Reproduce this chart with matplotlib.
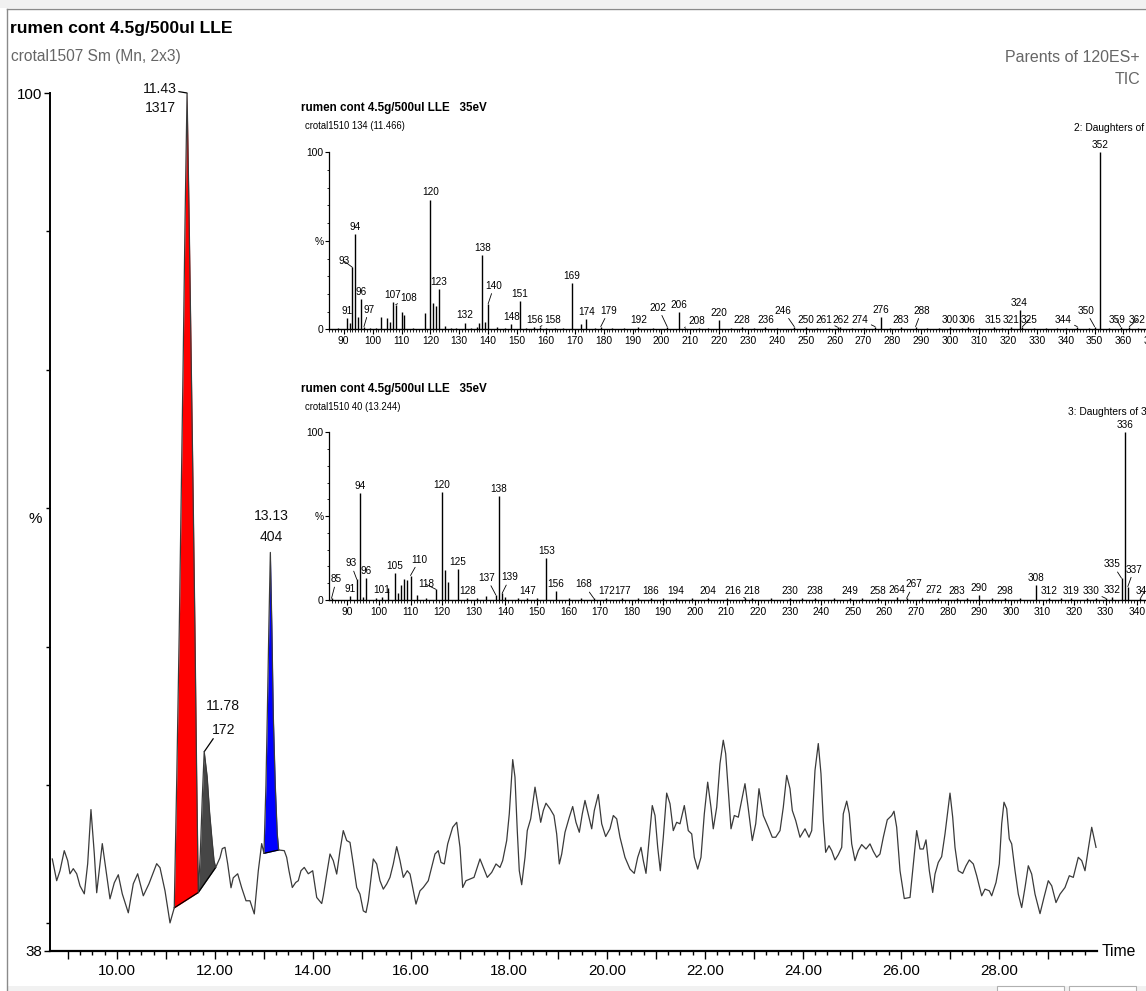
import numpy as np
import matplotlib
matplotlib.use("Agg")
import matplotlib.pyplot as plt
import matplotlib.font_manager as fm
from matplotlib.ticker import FixedLocator, MultipleLocator, FuncFormatter, NullFormatter
from matplotlib.patches import Rectangle
from matplotlib.lines import Line2D

# narrow face if present, otherwise Liberation Sans at a reduced size
_names = {e.name for e in fm.fontManager.ttflist}
if 'Liberation Sans Narrow' in _names:
    FAMILY, SCALE = 'Liberation Sans Narrow', 1.0
else:
    FAMILY, SCALE = 'Liberation Sans', 0.84
plt.rcParams['font.family'] = [FAMILY, 'DejaVu Sans']


def fs(size):
    return size * SCALE


# ---------------- TIC chromatogram (Parents of 120ES+) ----------------
rt_min = [
    8.680, 8.769, 8.837, 8.924, 8.994, 9.041, 9.108, 9.178, 9.245, 9.333, 9.402, 9.469, 9.537, 9.586,
    9.700, 9.769, 9.857, 9.945, 10.027, 10.108, 10.231, 10.333, 10.422, 10.537, 10.653, 10.810, 10.878,
    10.980, 11.082, 11.169,
    11.220, 11.270, 11.310, 11.350, 11.390, 11.430, 11.470, 11.510, 11.550, 11.590, 11.625, 11.645, 11.659,
    11.700, 11.740, 11.780, 11.840, 11.890, 11.940, 11.980, 12.014,
    12.102, 12.149, 12.204, 12.259, 12.327, 12.373, 12.463, 12.545, 12.633, 12.714, 12.802, 12.884, 12.953,
    13.000, 13.040, 13.070, 13.100, 13.130, 13.160, 13.190, 13.230, 13.270, 13.300,
    13.414, 13.463, 13.510, 13.578, 13.647, 13.700, 13.755, 13.822, 13.904, 13.994,
    14.076, 14.178, 14.210, 14.280, 14.347, 14.414, 14.484, 14.551, 14.618, 14.688, 14.755, 14.822,
    14.892, 14.959, 15.027, 15.082, 15.129, 15.178, 15.231, 15.300, 15.367, 15.435, 15.504, 15.571,
    15.639, 15.708, 15.776, 15.843, 15.924, 15.980, 16.047, 16.102, 16.184, 16.251, 16.353, 16.422,
    16.490, 16.557, 16.612, 16.680, 16.749, 16.851, 16.933, 17.000, 17.055, 17.122, 17.204, 17.286,
    17.341, 17.408, 17.476, 17.557, 17.647, 17.735, 17.816, 17.871, 17.953, 18.006, 18.076, 18.122,
    18.169, 18.210, 18.259, 18.327, 18.373, 18.443, 18.531, 18.598, 18.647, 18.700, 18.755, 18.837,
    18.918, 18.973, 19.027, 19.076, 19.143, 19.231, 19.300, 19.367, 19.435, 19.496, 19.551, 19.633,
    19.688, 19.741, 19.822, 19.892, 19.973, 20.061, 20.129, 20.198, 20.265, 20.367, 20.469, 20.557,
    20.627, 20.694, 20.741, 20.796, 20.857, 20.924, 20.980, 21.035, 21.088, 21.149, 21.218, 21.286,
    21.353, 21.422, 21.490, 21.578, 21.659, 21.729, 21.782, 21.851, 21.918, 21.986, 22.055, 22.122,
    22.169, 22.239, 22.306, 22.373, 22.422, 22.476, 22.531, 22.598, 22.680, 22.749, 22.816, 22.884,
    22.965, 23.035, 23.102, 23.190, 23.292, 23.373, 23.443, 23.531, 23.598, 23.667, 23.735, 23.782,
    23.851, 23.939, 24.041, 24.122, 24.178, 24.245, 24.312, 24.367, 24.414, 24.463, 24.531, 24.586,
    24.653, 24.720, 24.790, 24.822, 24.892, 24.945, 24.994, 25.061, 25.129, 25.198, 25.286, 25.367,
    25.435, 25.504, 25.571, 25.639, 25.720, 25.810, 25.857, 25.912, 25.980, 26.067, 26.184, 26.251,
    26.320, 26.388, 26.455, 26.510, 26.578, 26.647, 26.694, 26.761, 26.830, 26.898, 26.945, 27.000,
    27.055, 27.102, 27.169, 27.259, 27.327, 27.394, 27.476, 27.545, 27.647, 27.714, 27.802, 27.851,
    27.939, 28.006, 28.055, 28.102, 28.157, 28.210, 28.259, 28.327, 28.394, 28.463, 28.531, 28.598,
    28.667, 28.735, 28.837, 28.918, 29.006, 29.076, 29.163, 29.245, 29.347, 29.435, 29.516, 29.618,
    29.688, 29.755, 29.822, 29.892, 29.980,
]
tic_pct = [
    44.65, 43.08, 43.80, 45.25, 44.53, 43.58, 43.95, 43.58, 42.71, 42.13, 44.31, 48.22, 45.03, 42.21,
    45.76, 44.02, 41.77, 42.93, 43.51, 42.13, 40.76, 42.86, 43.58, 41.99, 42.86, 44.31, 44.02,
    42.35, 40.03, 41.12,
    50.50, 61.00, 70.50, 80.50, 91.00, 100.00, 91.50, 82.00, 72.00, 61.50, 51.00, 46.00, 42.23,
    45.00, 49.00, 52.40, 50.60, 48.00, 46.00, 44.53, 44.04,
    44.74, 45.40, 45.49, 44.31, 42.57, 43.29, 43.58, 42.57, 41.63, 41.63, 40.68, 43.80, 45.76,
    45.06, 50.00, 55.50, 61.50, 66.80, 61.50, 55.00, 50.00, 46.50, 45.30,
    45.25, 44.77, 43.80, 42.59, 42.95, 43.08, 43.80, 44.04, 43.58, 43.80,
    41.87, 41.43, 41.99, 43.56, 45.01, 44.53, 43.56, 45.25, 46.70, 45.98, 45.85, 44.29,
    42.59, 42.11, 40.90, 40.78, 41.63, 43.08, 44.65, 44.29, 43.08, 42.47, 42.84, 43.32,
    44.29, 45.54, 44.53, 43.32, 43.80, 43.56, 42.35, 41.39, 42.35, 42.59, 43.08, 44.04,
    45.01, 45.25, 44.40, 44.29, 45.74, 46.94, 47.30, 45.49, 42.59, 43.08, 43.20, 43.32,
    43.92, 44.65, 44.04, 43.32, 43.68, 44.29, 44.04, 44.53, 45.98, 47.91, 51.83, 50.57,
    46.70, 43.80, 42.79, 44.77, 46.70, 47.55, 49.84, 48.39, 47.30, 48.15, 48.68, 48.28,
    47.79, 46.46, 44.29, 45.01, 46.58, 47.67, 48.44, 47.30, 46.58, 47.91, 48.88, 47.67,
    46.83, 48.15, 49.31, 47.19, 46.27, 46.83, 47.79, 47.55, 46.22, 44.77, 43.92, 43.61,
    44.77, 45.49, 44.53, 43.61, 45.98, 48.51, 47.79, 45.49, 43.80, 46.22, 49.41, 48.64,
    46.70, 47.30, 47.19, 48.51, 46.70, 46.46, 44.77, 43.92, 44.77, 47.91, 50.20, 48.39,
    46.83, 48.39, 51.54, 53.23, 52.26, 49.60, 46.83, 47.79, 47.67, 48.88, 50.09, 48.28,
    45.98, 47.19, 49.73, 47.79, 46.94, 46.22, 46.22, 46.70, 48.39, 50.69, 49.73, 48.15,
    47.43, 46.22, 46.83, 46.22, 46.70, 51.05, 52.99, 50.81, 47.43, 45.13, 45.61, 45.25,
    44.58, 44.96, 45.49, 47.91, 48.83, 47.91, 45.74, 44.53, 45.25, 45.69, 45.37, 45.74,
    45.20, 44.77, 45.01, 46.22, 47.48, 47.79, 48.10, 46.94, 43.80, 41.79, 41.87, 44.29,
    46.70, 45.37, 45.37, 46.03, 43.80, 42.23, 43.56, 44.40, 44.82, 46.46, 47.79, 49.41,
    47.67, 45.49, 43.80, 43.61, 44.16, 44.58, 44.29, 43.44, 41.99, 42.47, 42.35, 41.99,
    42.95, 44.29, 47.19, 48.75, 48.28, 46.10, 45.74, 43.80, 42.11, 41.14, 42.59, 44.16,
    43.56, 42.11, 40.70, 41.87, 43.08, 42.71, 41.50, 42.11, 42.59, 43.44, 43.32, 44.77,
    44.53, 43.80, 45.37, 46.94, 45.49,
]

# integrated peaks
peak_rt = [11.43, 11.78, 13.13]
peak_area = [1317, 172, 404]
peak_start = [11.169, 11.659, 13.000]
peak_end = [11.659, 12.014, 13.300]
peak_colour = ['#ff0000', '#464646', '#0000ff']

# ---------------- daughter spectrum of 352 (scan 134, 11.466 min) ----------------
spec1_mz = [88, 91, 92, 93, 94, 95, 96, 97, 99, 101, 103, 105, 106, 107, 108, 110, 111, 114, 118,
            120, 121, 122, 123, 125, 127, 129, 132, 134, 136, 137, 138, 139, 140, 143, 146, 148,
            151, 153, 156, 158, 160, 163, 166, 169, 172, 174, 177, 179, 183, 187, 192, 197, 202,
            206, 208, 213, 216, 220, 224, 228, 232, 236, 240, 246, 250, 254, 258, 261, 262, 266,
            270, 274, 276, 279, 283, 288, 292, 296, 300, 304, 306, 310, 315, 318, 321, 324, 325,
            329, 333, 337, 340, 344, 348, 350, 352, 355, 359, 362, 365]
spec1_pct = [1.0, 6.6, 3.7, 35.0, 54.0, 7.0, 17.0, 1.5, 1.0, 1.0, 7.0, 6.6, 4.0, 15.2, 13.9, 10.0,
             8.1, 1.0, 9.0, 73.3, 15.0, 13.0, 22.6, 2.0, 1.0, 1.0, 3.8, 1.0, 1.5, 3.6, 42.0, 4.4,
             14.4, 1.5, 1.0, 2.8, 16.2, 1.0, 1.5, 1.5, 1.0, 1.0, 1.0, 26.2, 2.8, 5.6, 1.0, 1.5,
             1.0, 1.0, 1.5, 1.0, 1.5, 10.0, 1.0, 1.0, 1.0, 5.3, 1.0, 1.5, 1.0, 1.5, 1.0, 1.5, 1.2,
             1.0, 1.0, 1.2, 1.5, 1.0, 1.0, 1.5, 7.1, 1.0, 1.2, 1.5, 1.0, 1.0, 1.2, 1.0, 1.2, 1.0,
             1.2, 1.0, 1.2, 10.9, 1.5, 1.0, 1.0, 1.0, 1.0, 1.5, 1.0, 1.5, 100.0, 1.0, 1.5, 1.5, 1.0]
spec1_labelled = [91, 93, 94, 96, 97, 107, 108, 120, 123, 132, 138, 140, 148, 151, 156, 158, 169,
                  174, 179, 192, 202, 206, 208, 220, 228, 236, 246, 250, 261, 262, 274, 276, 283,
                  288, 300, 306, 315, 321, 324, 325, 344, 350, 352, 359, 362]

# ---------------- daughter spectrum of 336 (scan 40, 13.244 min) ----------------
spec2_mz = [85, 91, 93, 94, 95, 96, 99, 101, 103, 105, 106, 107, 108, 109, 110, 112, 115, 118, 120,
            121, 122, 125, 128, 131, 134, 137, 138, 139, 140, 144, 147, 150, 153, 156, 160, 164,
            168, 172, 177, 182, 186, 190, 194, 199, 204, 210, 216, 218, 224, 230, 234, 238, 244,
            249, 253, 258, 264, 267, 272, 277, 283, 286, 290, 294, 298, 303, 308, 312, 316, 319,
            324, 327, 330, 332, 335, 336, 337, 341]
spec2_pct = [1.0, 2.4, 12.3, 63.6, 2.0, 12.9, 1.0, 1.5, 7.0, 16.3, 4.3, 8.7, 12.6, 12.2, 14.6, 3.0,
             1.0, 6.4, 64.6, 18.0, 11.0, 18.5, 1.0, 1.0, 2.4, 3.0, 62.0, 4.0, 2.0, 1.0, 1.0, 1.0,
             24.9, 5.5, 1.0, 1.0, 1.0, 1.0, 1.0, 1.0, 1.0, 1.0, 1.0, 1.0, 1.0, 1.0, 1.0, 1.0, 1.0,
             1.0, 1.0, 1.0, 1.0, 1.0, 1.0, 1.0, 1.5, 1.0, 1.0, 1.0, 1.0, 1.0, 3.0, 1.0, 1.0, 1.0,
             8.9, 1.0, 1.0, 1.0, 1.0, 1.0, 1.0, 1.5, 13.0, 100.0, 8.0, 1.0]
spec2_labelled = [85, 91, 93, 94, 96, 101, 105, 110, 118, 120, 125, 128, 137, 138, 139, 147, 153,
                  156, 168, 172, 177, 186, 194, 204, 216, 218, 230, 238, 249, 258, 264, 267, 272,
                  283, 290, 298, 308, 312, 319, 330, 332, 335, 336, 337, 341]

# label displacements (pixels) for crowded peaks; a leader line is drawn for these
shift1 = {93: (-8, -1), 97: (5, 10), 108: (13, 0), 140: (6, 11), 158: (13, 0), 179: (8, 9),
          202: (-9, 12), 208: (12, 0), 246: (-11, 9), 261: (-14, 0), 274: (-15, 0), 288: (6, 9),
          325: (7, 0), 344: (-14, 0), 350: (-9, 9), 359: (-4, 0), 362: (8, 0)}
shift2 = {85: (5, 12), 93: (-6, 9), 110: (9, 9), 118: (-10, -2), 137: (-9, 10), 139: (8, 9),
          168: (-10, 7), 216: (-13, 0), 267: (7, 7), 272: (11, 1), 330: (-15, 0), 335: (-9, 7),
          337: (6, 10), 341: (4, 0)}

W, H = 1146, 991
PT = 0.72  # points per pixel at 100 dpi


def fx(px):
    return px / W


def fy(py):
    return 1 - py / H


fig = plt.figure(figsize=(W / 100, H / 100), dpi=100)
fig.patch.set_facecolor('white')

# window frame
fig.add_artist(Rectangle((0, fy(8)), 1, 8 / H, transform=fig.transFigure, facecolor='#f1f1f1',
                         edgecolor='none'))
fig.add_artist(Line2D([fx(7), 1], [fy(8.5), fy(8.5)], transform=fig.transFigure, color='#8a8a8a', lw=1))
fig.add_artist(Line2D([fx(7), fx(7)], [fy(8.5), 0], transform=fig.transFigure, color='#8a8a8a', lw=1))
fig.add_artist(Rectangle((fx(7), 0), 1, 5 / H, transform=fig.transFigure, facecolor='#f1f1f1',
                         edgecolor='none'))
for bx0, bx1 in [(997, 1064), (1069, 1136)]:
    fig.add_artist(Rectangle((fx(bx0), 0), fx(bx1) - fx(bx0), 5 / H, transform=fig.transFigure,
                             facecolor='white', edgecolor='#b0b0b0', lw=0.8))

# ---------------- main chromatogram ----------------
ax = fig.add_axes([fx(50), fy(951), fx(1097) - fx(50), fy(93) - fy(951)])
ax.set_facecolor('none')
ax.set_xlim(8.633, 30.0)
ax.set_ylim(38, 100)
for s in ('top', 'right'):
    ax.spines[s].set_visible(False)
ax.spines['bottom'].set_linewidth(1.6)
ax.spines['left'].set_linewidth(1.4)

t = np.array(rt_min)
y = np.array(tic_pct)
for t0, t1, col in zip(peak_start, peak_end, peak_colour):
    m = (t >= t0 - 1e-9) & (t <= t1 + 1e-9)
    y0, y1 = np.interp([t0, t1], t, y)
    base = np.interp(t[m], [t0, t1], [y0, y1])
    ax.fill_between(t[m], base, y[m], color=col, lw=0, zorder=2)
    ax.plot([t0, t1], [y0, y1], color='black', lw=0.9, zorder=3)
ax.plot(t, y, color='#3a3a3a', lw=0.9, zorder=4)

ax.xaxis.set_major_locator(FixedLocator(np.arange(9, 30, 1.0)))
ax.xaxis.set_minor_locator(FixedLocator([v for v in np.arange(9, 29.8, 0.25) if abs(v - round(v)) > 0.01]))
ax.xaxis.set_major_formatter(FuncFormatter(lambda v, p: f'{v:.2f}' if int(round(v)) % 2 == 0 else ''))
ax.xaxis.set_minor_formatter(NullFormatter())
ax.tick_params(axis='x', which='major', length=5.5, width=1, pad=4, labelsize=fs(13), direction='out')
ax.tick_params(axis='x', which='minor', length=3.2, width=1, direction='out')
ax.yaxis.set_major_locator(FixedLocator([38, 100]))
ax.yaxis.set_minor_locator(FixedLocator([40, 50, 60, 70, 80, 90]))
ax.yaxis.set_major_formatter(FuncFormatter(lambda v, p: f'{v:.0f}'))
ax.tick_params(axis='y', which='major', length=4.5, width=1, pad=1, labelsize=fs(13))
ax.tick_params(axis='y', which='minor', length=3, width=1)
ax.text(-0.008, 69.2, '%', transform=ax.get_yaxis_transform(), ha='right', va='center', fontsize=fs(13))
ax.text(1.004, 38, 'Time', transform=ax.get_yaxis_transform(), ha='left', va='center', fontsize=fs(13.5))

# peak annotations: retention time over area
lab_kw = dict(textcoords='offset points', fontsize=fs(12), va='center', color='#111111')
ap = peak_rt[0]
ay = np.interp(ap, t, y)
ax.annotate(f'{peak_rt[0]:.2f}', xy=(ap, ay), xytext=(-7.5, 3), ha='right', **lab_kw)
ax.annotate(f'{peak_area[0]}', xy=(ap, ay), xytext=(-8, -11), ha='right', **lab_kw)
ax.annotate('', xy=(ap, ay), xytext=(-6, 1), textcoords='offset points',
            arrowprops=dict(arrowstyle='-', lw=0.9, color='black', shrinkA=0, shrinkB=0))

ap = peak_rt[1]
ay = np.interp(ap, t, y)
ax.annotate(f'{peak_rt[1]:.2f}', xy=(ap, ay), xytext=(13.7, 33), ha='center', **lab_kw)
ax.annotate(f'{peak_area[1]}', xy=(ap, ay), xytext=(13.7, 16), ha='center', **lab_kw)
ax.annotate('', xy=(ap, ay), xytext=(6.5, 9.4), textcoords='offset points',
            arrowprops=dict(arrowstyle='-', lw=0.9, color='black', shrinkA=0, shrinkB=0))

ap = peak_rt[2]
ay = np.interp(ap, t, y)
ax.annotate(f'{peak_rt[2]:.2f}', xy=(ap, ay), xytext=(1, 26.6), ha='center', **lab_kw)
ax.annotate(f'{peak_area[2]}', xy=(ap, ay), xytext=(0.7, 11), ha='center', **lab_kw)

fig.text(fx(10), fy(28), 'rumen cont 4.5g/500ul LLE', fontsize=fs(15), fontweight='bold',
         ha='left', va='center')
fig.text(fx(11), fy(57), 'crotal1507 Sm (Mn, 2x3)', fontsize=fs(13.3), color='#666666',
         ha='left', va='center')
fig.text(fx(1140), fy(57), 'Parents of 120ES+', fontsize=fs(13.7), color='#666666', ha='right', va='center')
fig.text(fx(1140), fy(80), 'TIC', fontsize=fs(13.7), color='#666666', ha='right', va='center')


# ---------------- daughter spectra ----------------
def spectrum(x0, y0, y100, mz_lo, mz_hi, px_per_mz, mz, pct, labelled, shifts, tick_hi,
             title, subtitle, tag, title_y, tag_y):
    sax = fig.add_axes([fx(x0), fy(y0), (mz_hi - mz_lo) * px_per_mz / W, (y0 - y100) / H])
    sax.set_facecolor('none')
    sax.set_xlim(mz_lo, mz_hi)
    sax.set_ylim(0, 100)
    for s in ('top', 'right'):
        sax.spines[s].set_visible(False)
    sax.spines['left'].set_linewidth(0.9)
    sax.spines['bottom'].set_linewidth(1.0)
    sax.vlines(mz, 0, pct, color='black', lw=1.0)
    sax.xaxis.set_major_locator(FixedLocator(np.arange(90, tick_hi + 1, 10)))
    sax.xaxis.set_minor_locator(MultipleLocator(1))
    sax.xaxis.set_major_formatter(FuncFormatter(lambda v, p: f'{v:.0f}'))
    sax.tick_params(axis='x', which='major', length=3.5, width=0.8, pad=1.5, labelsize=fs(8.8))
    sax.tick_params(axis='x', which='minor', length=1.8, width=0.6)
    sax.yaxis.set_major_locator(FixedLocator([0, 50, 100]))
    sax.yaxis.set_minor_locator(MultipleLocator(10))
    sax.yaxis.set_major_formatter(FuncFormatter(lambda v, p: {0: '0', 50: '%', 100: '100'}[int(round(v))]))
    sax.tick_params(axis='y', which='major', length=3, width=0.8, pad=1, labelsize=fs(8.8))
    sax.tick_params(axis='y', which='minor', length=1.8, width=0.6)
    for m, v in zip(mz, pct):
        if m not in labelled:
            continue
        dx, dy = shifts.get(m, (0, 0))
        if (dx, dy) != (0, 0):
            sax.annotate(str(m), xy=(m, v), xytext=(dx * PT, (dy + 2) * PT), textcoords='offset points',
                         ha='center', va='bottom', fontsize=fs(8.6), annotation_clip=False,
                         arrowprops=dict(arrowstyle='-', lw=0.6, color='black', shrinkA=0, shrinkB=0))
        else:
            sax.annotate(str(m), xy=(m, v), xytext=(0, 1.5), textcoords='offset points',
                         ha='center', va='bottom', fontsize=fs(8.6), annotation_clip=False)
    fig.text(fx(301), fy(title_y), title, fontsize=fs(10), fontweight='bold', ha='left', va='center')
    fig.text(fx(305), fy(title_y + 18), subtitle, fontsize=fs(8.2), ha='left', va='center')
    fig.text(fx(tag[1]), fy(tag_y), tag[0], fontsize=fs(8.8), ha='left', va='center')
    return sax


spectrum(329.3, 329.3, 152.3, 85.0, 375.0, 2.888, spec1_mz, spec1_pct, spec1_labelled, shift1, 370,
         'rumen cont 4.5g/500ul LLE   35eV', 'crotal1510 134 (11.466)', ('2: Daughters of 352ES+', 1074),
         108, 128)
spectrum(329.3, 600.0, 432.3, 84.3, 352.0, 3.16, spec2_mz, spec2_pct, spec2_labelled, shift2, 350,
         'rumen cont 4.5g/500ul LLE   35eV', 'crotal1510 40 (13.244)', ('3: Daughters of 336ES+', 1068),
         389, 412)

fig.savefig('out.png', dpi=100)
